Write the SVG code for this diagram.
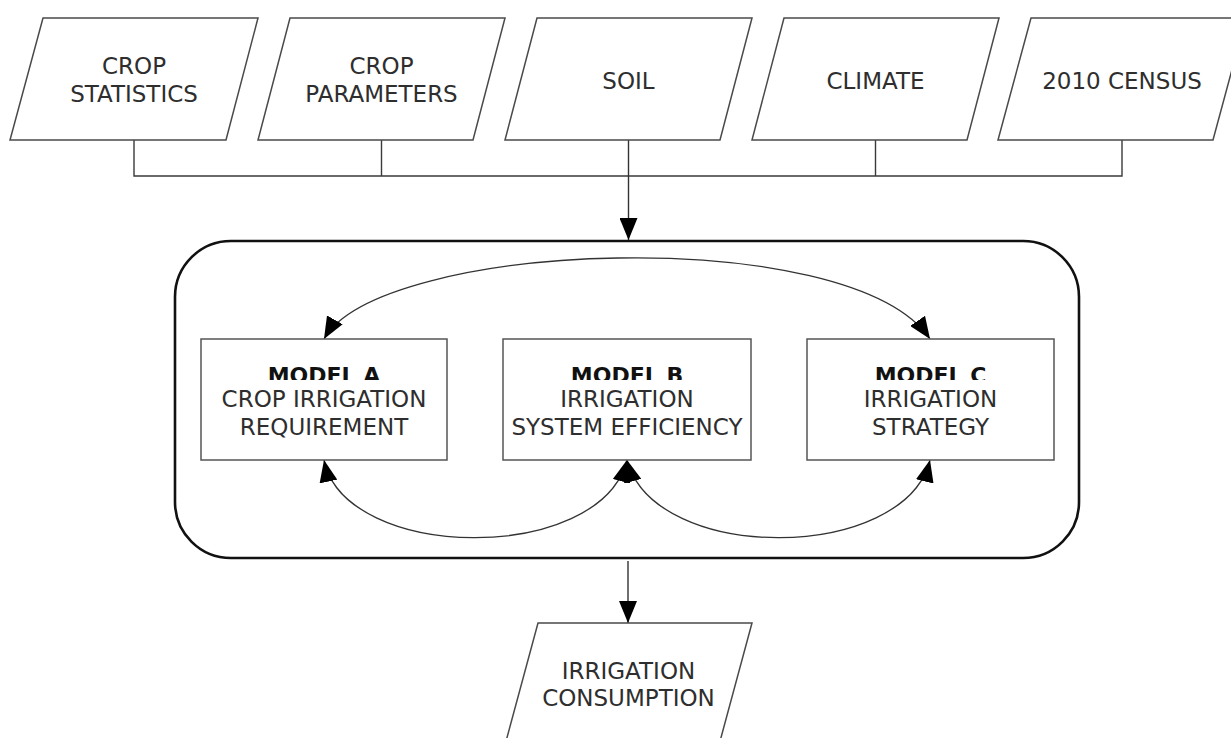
<svg xmlns="http://www.w3.org/2000/svg" width="1231" height="738" viewBox="0 0 1231 738">
  <style>
    .io { fill: #ffffff; stroke: #4a4a4a; stroke-width: 1.5; }
    .model { fill: #ffffff; stroke: #555555; stroke-width: 1.5; }
    .container { fill: #ffffff; stroke: #111111; stroke-width: 2.6; }
    .t { font-family: "DejaVu Sans", Verdana, sans-serif; font-size: 23px; fill: #2e2e2e; text-anchor: middle; }
    .b { font-family: "DejaVu Sans", Verdana, sans-serif; font-size: 22px; font-weight: bold; fill: #111111; text-anchor: middle; }
    .wire { fill: none; stroke: #3a3a3a; stroke-width: 1.4; }
    .arr { fill: none; stroke: #333333; stroke-width: 1.4; marker-end: url(#ah); }
    .bi { fill: none; stroke: #333333; stroke-width: 1.3; marker-start: url(#ah); marker-end: url(#ah); }
  </style>
  <defs>
    <marker id="ah" viewBox="0 0 22 18" refX="22" refY="9" markerWidth="22" markerHeight="18" markerUnits="userSpaceOnUse" orient="auto-start-reverse">
      <path d="M0,0 L22,9 L0,18 z" fill="#000000"/>
    </marker>
    <clipPath id="clipBold">
      <rect x="0" y="350" width="1231" height="30"/>
    </clipPath>
  </defs>

  <rect width="1231" height="738" fill="#ffffff"/>

  <!-- container -->
  <g id="models-container">
    <rect class="container" x="175" y="241" width="904" height="317" rx="56" ry="56"/>
  </g>

  <!-- connectors -->
  <g id="connectors">
    <path class="wire" d="M134,140 V176 H1122 V140 M381.5,140 V176 M875.5,140 V176"/>
    <path class="arr" d="M628.5,140 V240"/>
    <path class="arr" d="M628,561 V623"/>
    <path class="bi" d="M324,339 C380,240 850,222 930,339"/>
    <path class="bi" d="M324,460 C345,562 600,565 627,460"/>
    <path class="bi" d="M627,460 C655,565 905,562 930,460"/>
  </g>

  <!-- input nodes -->
  <g id="crop-statistics">
    <polygon class="io" points="43,18 258,18 226,140 10,140"/>
    <text class="t" x="134" y="74">CROP</text>
    <text class="t" x="134" y="102">STATISTICS</text>
  </g>
  <g id="crop-parameters">
    <polygon class="io" points="290,18 505,18 473,140 258,140"/>
    <text class="t" x="381.5" y="74">CROP</text>
    <text class="t" x="381.5" y="102">PARAMETERS</text>
  </g>
  <g id="soil">
    <polygon class="io" points="537,18 752,18 720,140 505,140"/>
    <text class="t" x="628.5" y="89">SOIL</text>
  </g>
  <g id="climate">
    <polygon class="io" points="784,18 999,18 967,140 752,140"/>
    <text class="t" x="875.5" y="89">CLIMATE</text>
  </g>
  <g id="census">
    <polygon class="io" points="1031,18 1246,18 1213,140 998,140"/>
    <text class="t" x="1122" y="89">2010 CENSUS</text>
  </g>

  <!-- models -->
  <g id="model-a">
    <rect class="model" x="201" y="339" width="246" height="121"/>
    <text class="b" x="324" y="383" clip-path="url(#clipBold)">MODEL A</text>
    <text class="t" x="324" y="407">CROP IRRIGATION</text>
    <text class="t" x="324" y="435">REQUIREMENT</text>
  </g>
  <g id="model-b">
    <rect class="model" x="503" y="339" width="248" height="121"/>
    <text class="b" x="627" y="383" clip-path="url(#clipBold)">MODEL B</text>
    <text class="t" x="627" y="407">IRRIGATION</text>
    <text class="t" x="627" y="435">SYSTEM EFFICIENCY</text>
  </g>
  <g id="model-c">
    <rect class="model" x="807" y="339" width="247" height="121"/>
    <text class="b" x="930.5" y="383" clip-path="url(#clipBold)">MODEL C</text>
    <text class="t" x="930.5" y="407">IRRIGATION</text>
    <text class="t" x="930.5" y="435">STRATEGY</text>
  </g>

  <!-- output -->
  <g id="irrigation-consumption">
    <polygon class="io" points="538,623 752,623 719,745 505,745"/>
    <text class="t" x="628.5" y="679">IRRIGATION</text>
    <text class="t" x="628.5" y="706">CONSUMPTION</text>
  </g>
</svg>
